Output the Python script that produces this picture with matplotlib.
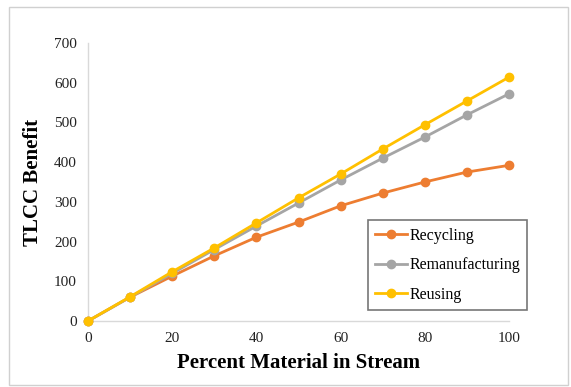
import matplotlib
matplotlib.use("Agg")
import matplotlib.pyplot as plt
from matplotlib.patches import Rectangle

# Percent of material in the stream
percent = [0, 10, 20, 30, 40, 50, 60, 70, 80, 90, 100]

# TLCC benefit per end-of-life strategy
recycling = [0, 60, 113, 164, 211, 249, 290, 322, 350, 375, 392]
remanufacturing = [0, 60, 120, 180, 239, 297, 355, 410, 463, 519, 572]
reusing = [0, 61, 124, 184, 247, 310, 370, 433, 494, 554, 614]

series = [
    ("Recycling", recycling, "#ED7D31"),
    ("Remanufacturing", remanufacturing, "#A5A5A5"),
    ("Reusing", reusing, "#FFC000"),
]

plt.rcParams["font.family"] = ["Liberation Serif", "DejaVu Serif"]

W, H = 571, 387
fig = plt.figure(figsize=(W / 100, H / 100), dpi=100)
fig.patches.append(Rectangle((9 / W, 1 - 385 / H), (568 - 9) / W, (385 - 7) / H,
                             transform=fig.transFigure, fill=False,
                             edgecolor="#D0D0D0", linewidth=1.0))

ax = fig.add_axes([88 / W, 1 - 321 / H, (509 - 88) / W, (321 - 43) / H])

for name, vals, color in series:
    ax.plot(percent, vals, color=color, linewidth=2.0, marker="o",
            markersize=6, label=name, clip_on=False, zorder=3)

ax.set_xlim(0, 100)
ax.set_ylim(0, 700)
ax.set_xticks(range(0, 101, 20))
ax.set_yticks(range(0, 701, 100))
ax.tick_params(length=0, labelsize=11, colors="#222222", pad=8)

for side in ("top", "right"):
    ax.spines[side].set_visible(False)
for side in ("left", "bottom"):
    ax.spines[side].set_color("#D9D9D9")
    ax.spines[side].set_linewidth(1.0)

ax.set_xlabel("Percent Material in Stream", fontsize=15, fontweight="bold", labelpad=6)
ax.set_ylabel("TLCC Benefit", fontsize=15, fontweight="bold", labelpad=8)

leg = ax.legend(loc="lower right", bbox_to_anchor=(1.043, 0.04), borderaxespad=0,
                fontsize=11.5, frameon=True, fancybox=False, handlelength=2.0,
                borderpad=0.45, labelspacing=0.85, handletextpad=0.15)
leg.get_frame().set_edgecolor("#555555")
leg.get_frame().set_linewidth(1.2)

fig.savefig("out.png", dpi=100)
